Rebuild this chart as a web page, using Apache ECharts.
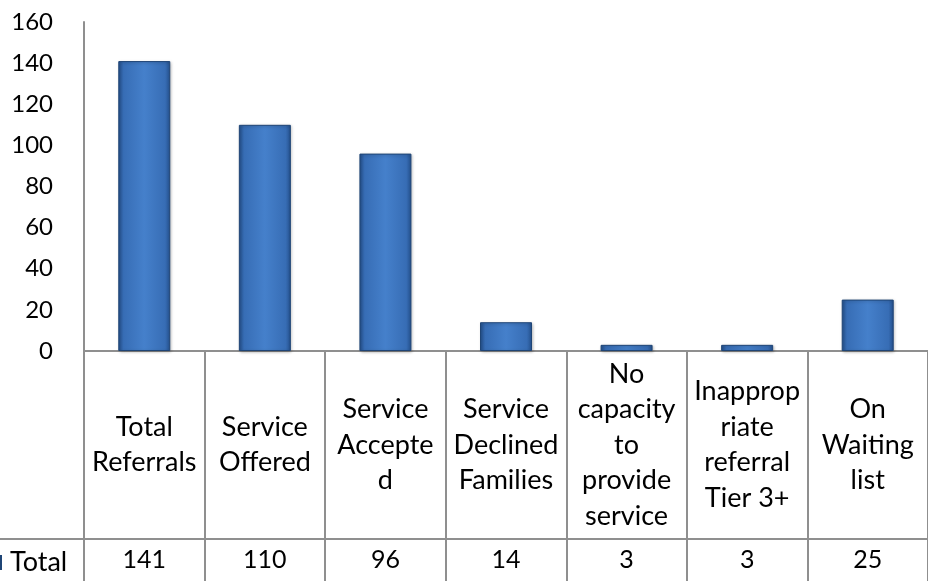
<!DOCTYPE html>
<html>
<head>
<meta charset="utf-8">
<script src="https://cdn.jsdelivr.net/npm/echarts@6/dist/echarts.min.js"></script>
<style>
html,body{margin:0;padding:0;background:#fff;}
#main{width:928px;height:581px;}
</style>
</head>
<body>
<div id="main"></div>
<script>
var categories = ["Total\nReferrals", "Service\nOffered", "Service\nAccepte\nd", "Service\nDeclined\nFamilies", "No\ncapacity\nto\nprovide\nservice", "Inapprop\nriate\nreferral\nTier 3+", "On\nWaiting\nlist"];
var totals = [141, 110, 96, 14, 3, 3, 25];
var seriesName = "Total";
var yMin = 0, yMax = 160, yStep = 20;

var FONT = "Lato";
var GRID_LEFT = 84, GRID_TOP = 22, GRID_BOTTOM = 230;
var W = 928, H = 581;
var gray = "#8f8f8f";

var chart = echarts.init(document.getElementById('main'), null, {renderer: 'canvas'});
var barColor = new echarts.graphic.LinearGradient(0, 0, 1, 0, [
  {offset: 0, color: '#24508c'},
  {offset: 0.1, color: '#376db5'},
  {offset: 0.5, color: '#4580cb'},
  {offset: 0.9, color: '#376db5'},
  {offset: 1, color: '#24508c'}
]);
chart.setOption({
  animation: false,
  textStyle: {fontFamily: FONT},
  grid: {left: GRID_LEFT, right: 0, top: GRID_TOP, bottom: GRID_BOTTOM, containLabel: false},
  legend: {
    data: [seriesName],
    left: -15, top: 544,
    icon: 'rect', itemWidth: 10, itemHeight: 13, itemGap: 0,
    textStyle: {fontFamily: FONT, fontSize: 27, color: '#000', padding: [0, 0, 0, 4]}
  },
  xAxis: [{
    type: 'category',
    data: categories,
    position: 'bottom',
    axisLine: {show: true, lineStyle: {color: gray, width: 2}},
    axisTick: {show: true, interval: 0, length: GRID_BOTTOM, lineStyle: {color: gray, width: 2}},
    axisLabel: {interval: 0, margin: 94, verticalAlign: 'middle', lineHeight: 35.5, fontFamily: FONT, fontSize: 27, color: '#000', align: 'center'}
  }, {
    type: 'category',
    data: categories,
    position: 'bottom',
    axisLine: {show: false},
    axisTick: {show: false},
    axisLabel: {interval: 0, margin: 209, verticalAlign: 'middle', fontFamily: FONT, fontSize: 25, color: '#000',
      formatter: function (v, i) { return String(totals[i]); }}
  }],
  yAxis: {
    type: 'value', min: yMin, max: yMax, interval: yStep,
    axisLine: {show: true, lineStyle: {color: gray, width: 2}},
    axisTick: {show: false},
    splitLine: {show: false},
    axisLabel: {margin: 31, fontFamily: FONT, fontSize: 24, color: '#000'}
  },
  graphic: [{
    type: 'line',
    shape: {x1: 0, y1: 539, x2: W, y2: 539},
    style: {stroke: gray, lineWidth: 2},
    z: 10
  }],
  series: [{
    name: seriesName,
    type: 'bar',
    data: totals,
    barWidth: 52,
    itemStyle: {color: barColor, borderColor: '#1f4576', borderWidth: 1,
      shadowColor: 'rgba(0,0,0,0.25)', shadowBlur: 3, shadowOffsetX: 1, shadowOffsetY: 1}
  }]
});
</script>
</body>
</html>
